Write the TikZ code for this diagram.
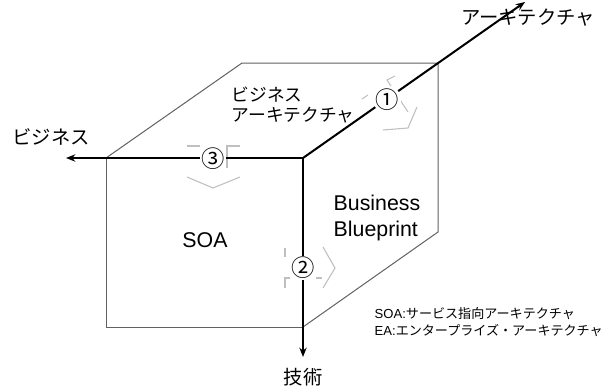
\documentclass[tikz,border=0pt]{standalone}
\usepackage{fontspec}
\setmainfont{Noto Sans CJK JP}
\newfontfamily\lat{Liberation Sans}
\usetikzlibrary{arrows.meta}
\tikzset{
  edge/.style={draw=black!62, line width=0.75pt},
  axis/.style={draw=black, line width=1.5pt, -{Stealth[length=7pt,width=5.5pt]}},
  deco/.style={draw=black!25, line width=0.8pt},
  num/.style={fill=white, inner sep=0.8pt, font=\fontsize{17.5}{17.5}\selectfont},
  big/.style={font=\fontsize{14.5}{14.5}\selectfont},
  mid/.style={font=\fontsize{13.3}{15.5}\selectfont, align=left},
  latbig/.style={font=\lat\fontsize{16}{20}\selectfont, align=left},
  legend/.style={font=\fontsize{9.8}{12.3}\selectfont, align=left}
}
\begin{document}
\begin{tikzpicture}[x=0.75pt,y=-0.75pt]
\useasboundingbox (0,0) rectangle (607,389);
% cube corners
\coordinate (FTL) at (106,158);
\coordinate (O) at (303,158);
\coordinate (FBL) at (106,327);
\coordinate (FBR) at (303,327);
\coordinate (BTL) at (242,63);
\coordinate (BTR) at (438,63);
\coordinate (BBR) at (438,232);
% axis tips
\coordinate (TL) at (66,158);
\coordinate (TD) at (303,357);
\coordinate (TU) at (525,2);
% cube edges
\draw[edge] (FTL) -- (FBL) -- (FBR);
\draw[edge] (FTL) -- (BTL) -- (BTR) -- (O);
\draw[edge] (BTR) -- (BBR) -- (FBR);
% decorations (faded arrows)
\draw[deco] (187,146) -- (200,146);
\draw[deco] (240,146) -- (227,146) -- (227,168);
\draw[deco] (187,177) -- (213,188) -- (240,177);
\draw[deco] (285,248) -- (285,257);
\draw[deco] (322,278) -- (285,278) -- (285,288);
\draw[deco] (323,247) -- (335,268) -- (323,288);
\draw[deco] (362,99) -- (368,95);
\draw[deco] (395,76) -- (387,80) -- (408,112);
\draw[deco] (417,107) -- (408,128) -- (383,130);
% axes
\draw[axis] (O) -- (TL);
\draw[axis] (O) -- (TD);
\draw[axis] (O) -- (TU);
% circled numbers
\node[num] (n3) at (213,159) {③};
\node[num] (n2) at (303,268) {②};
\node[num, circle, inner sep=-1pt] (n1) at (387,99.5) {①};
% labels
\node[big] (lbiz) at (51,137) {ビジネス};
\node[big] (larch) at (528,18) {アーキテクチャ};
\node[big] (ltech) at (303,377) {技術};
\node[mid, anchor=west] (lba) at (227,105) {ビジネス\\アーキテクチャ};
\node[latbig] (lsoa) at (205,240) {SOA};
\node[latbig, anchor=west] (lbb) at (329,218) {Business\\Blueprint};
\node[legend, anchor=west] (leg) at (370,322) {{\lat SOA:}サービス指向アーキテクチャ\\{\lat EA:}エンタープライズ・アーキテクチャ};
\end{tikzpicture}
\end{document}
